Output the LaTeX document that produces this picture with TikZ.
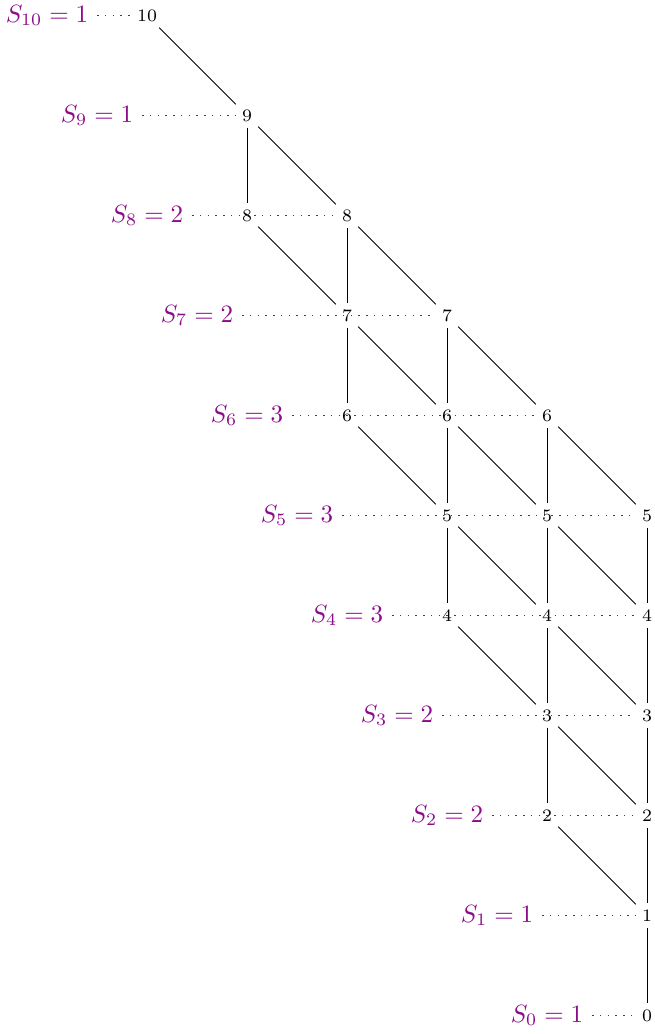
\documentclass[tikz,border=0pt]{standalone}
\usepackage{xcolor}
\definecolor{labcol}{rgb}{0.55,0.05,0.55}
\begin{document}
\begin{tikzpicture}[x=0.4pt,y=-0.4pt,
  num/.style={font=\scriptsize,inner sep=2.3pt},
  lab/.style={text=labcol,font=\normalsize},
  edge/.style={draw=black,line width=0.4pt},
  dots/.style={draw=labcol,line width=0.6pt,dash pattern=on 0.6pt off 2.5pt}]
\useasboundingbox (0,0) rectangle (654,1034);
% nodes: name n<level>c<col>, x = 147 + 100*col, y = 15.5 + 100*(10-level)
\foreach \l/\c in {10/0, 9/1, 8/1, 8/2, 7/2, 7/3, 6/2, 6/3, 6/4,
                   5/3, 5/4, 5/5, 4/3, 4/4, 4/5, 3/4, 3/5, 2/4, 2/5, 1/5, 0/5}
  \node[num] (n\l c\c) at ({147+100*\c},{15.5+100*(10-\l)}) {\l};
% labels
\foreach \l/\s in {10/1, 9/1, 8/2, 7/2, 6/3, 5/3, 4/3, 3/2, 2/2, 1/1, 0/1}
  \node[lab] (s\l) at ({547-50*\l},{15.5+100*(10-\l)}) {$S_{\l}=\s$};
% dotted rows
\foreach \l/\c in {10/0, 9/1, 8/2, 7/3, 6/4, 5/5, 4/5, 3/5, 2/5, 1/5, 0/5}
  \draw[dots] (s\l.east) -- (n\l c\c.west);
% edges
\foreach \a/\b in {10c0/9c1,
  9c1/8c1, 9c1/8c2,
  8c1/7c2, 8c2/7c2, 8c2/7c3,
  7c2/6c2, 7c2/6c3, 7c3/6c3, 7c3/6c4,
  6c2/5c3, 6c3/5c3, 6c3/5c4, 6c4/5c4, 6c4/5c5,
  5c3/4c3, 5c3/4c4, 5c4/4c4, 5c4/4c5, 5c5/4c5,
  4c3/3c4, 4c4/3c4, 4c4/3c5, 4c5/3c5,
  3c4/2c4, 3c4/2c5, 3c5/2c5,
  2c4/1c5, 2c5/1c5,
  1c5/0c5}
  \draw[edge] (n\a) -- (n\b);
\end{tikzpicture}
\end{document}
